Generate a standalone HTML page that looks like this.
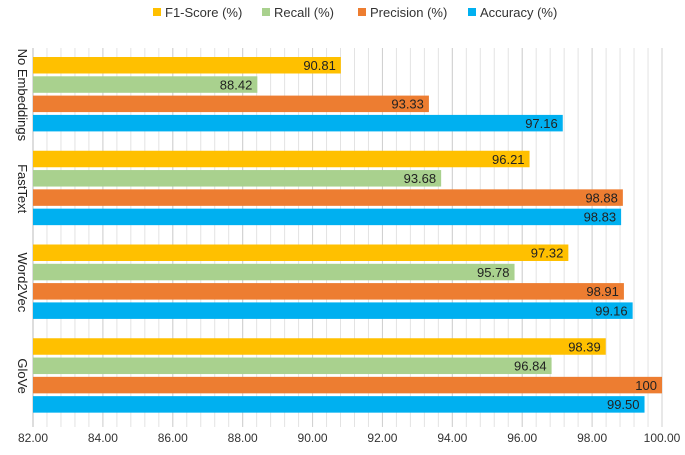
<!DOCTYPE html>
<html><head><meta charset="utf-8"><style>
body{margin:0;background:#fff;font-family:"Liberation Sans",sans-serif}
svg text{font-family:"Liberation Sans",sans-serif}
</style></head><body>
<svg id="c" width="685" height="450"></svg>
<script>
const categories=["No Embeddings","FastText","Word2Vec","GloVe"];
const seriesNames=["F1-Score (%)","Recall (%)","Precision (%)","Accuracy (%)"];
const colors=["#FFC000","#A9D18E","#ED7D31","#00B0F0"];
const f1=[90.81,96.21,97.32,98.39];
const recall=[88.42,93.68,95.78,96.84];
const precision=[93.33,98.88,98.91,100];
const accuracy=[97.16,98.83,99.16,99.50];
const labels=[["90.81","96.21","97.32","98.39"],["88.42","93.68","95.78","96.84"],["93.33","98.88","98.91","100"],["97.16","98.83","99.16","99.50"]];
const ticks=[82,84,86,88,90,92,94,96,98,100];
const series=[f1,recall,precision,accuracy];
const NS="http://www.w3.org/2000/svg",svg=document.getElementById('c');
const L=33,R=662,T=48,B=423,xmin=82,xmax=100;
const x=v=>L+(v-xmin)/(xmax-xmin)*(R-L);
const band=(B-T)/categories.length;
function mk(t,a,txt){const e=document.createElementNS(NS,t);for(const k in a)e.setAttribute(k,a[k]);if(txt!=null)e.textContent=txt;svg.appendChild(e);return e;}
for(let v=xmin;v<=xmax+1e-9;v+=0.4){const g=mk('line',{x1:x(v),x2:x(v),y1:T,y2:B+4,stroke:'#e3e3e3','stroke-width':1});

}
ticks.forEach(t=>{const g=mk('line',{x1:x(t),x2:x(t),y1:T,y2:B+4,stroke:'#d0d0d0','stroke-width':1});


const tl=mk('text',{x:x(t),y:442,'text-anchor':'middle','font-size':12,fill:'#333'},t.toFixed(2));

});
const ax=mk('line',{x1:L,x2:L,y1:T,y2:B+4,stroke:'#bbb'});


categories.forEach((c,i)=>{const y0=T+i*band;
const cl=mk('text',{x:0,y:0,'text-anchor':'middle','font-size':13,fill:'#222',transform:`translate(18,${y0+band/2}) rotate(90)`},c);


series.forEach((s,j)=>{const by=y0+9+j*19.3;
const r=mk('rect',{x:L,y:by,width:x(s[i])-L,height:16.5,fill:colors[j]});


const t=mk('text',{x:x(s[i])-5,y:by+13,'text-anchor':'end','font-size':13,fill:'#222'},labels[j][i]);

});});
let lx=[153,262,358,468];
seriesNames.forEach((n,j)=>{const r=mk('rect',{x:lx[j],y:8,width:8,height:8,fill:colors[j]});


const t=mk('text',{x:lx[j]+12,y:17,'font-size':13,fill:'#333'},n);

});
</script>
</body></html>
